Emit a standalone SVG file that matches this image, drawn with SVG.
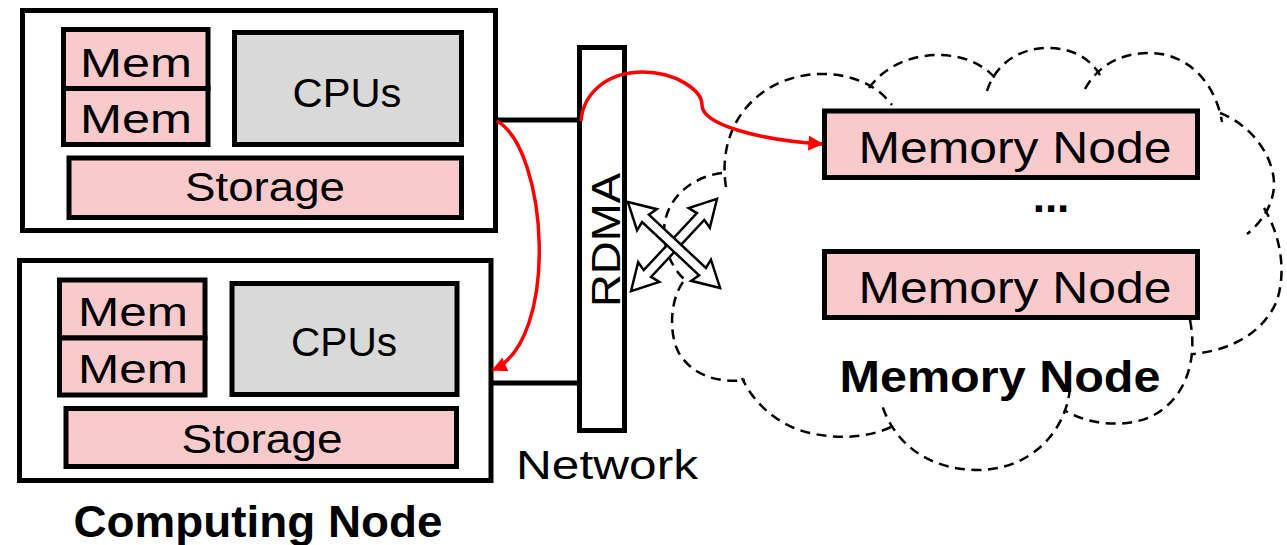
<svg xmlns="http://www.w3.org/2000/svg" width="1287" height="545" viewBox="0 0 1287 545">
  <style>
    .frame { fill: #ffffff; stroke: #000000; stroke-width: 5; }
    .mem { fill: #f8cacc; stroke: #000000; stroke-width: 5; }
    .cpu { fill: #d9d9d9; stroke: #000000; stroke-width: 5; }
    .link { fill: none; stroke: #000000; stroke-width: 5; }
    .flow { fill: none; stroke: #ff0000; stroke-width: 3.5; }
    .cloud { fill: none; stroke: #000000; stroke-width: 2.5; stroke-dasharray: 10 6.5; }
    .xarrow { fill: #ffffff; stroke: #000000; stroke-width: 2.5; stroke-linejoin: miter; }
    text { font-family: "Liberation Sans", Arial, sans-serif; fill: #000000; text-anchor: middle; }
    .lbl { font-size: 41px; }
    .big { font-size: 44px; }
    .bold { font-size: 45px; font-weight: bold; }
  </style>
  <defs>
    <marker id="redHead" viewBox="0 0 10 10" refX="9" refY="5" markerUnits="userSpaceOnUse" markerWidth="16" markerHeight="15" orient="auto">
      <path d="M0,0 L10,5 L0,10 Z" fill="#ff0000"/>
    </marker>
    <!-- double-headed hollow block arrow, centred on the origin -->
    <path id="dblArrow" d="M-63,0 L-37,-14.5 L-39,-5 L39,-5 L37,-14.5 L63,0 L37,14.5 L39,5 L-39,5 L-37,14.5 Z"/>
  </defs>

  <!-- dashed cloud holding the memory pool -->
  <g id="memory-cloud" class="cloud">
    <path d="M726,187 C716,125 758,76 819,74 C852,73 878,86 892,105"/>
    <path d="M869,88 C884,67 910,55 938,55 C963,55 983,64 995,78"/>
    <path d="M987,91 C995,65 1018,48 1048,48 C1072,48 1090,58 1100,75"/>
    <path d="M1085,89 C1100,62 1125,53 1150,53 C1185,53 1215,80 1222,122"/>
    <path d="M1220,113 C1252,125 1275,158 1274,186 C1273,205 1262,222 1247,234"/>
    <path d="M1264,208 C1280,235 1286,268 1278,297 C1268,328 1236,350 1193,354"/>
    <path d="M1190,320 C1198,360 1186,400 1150,417 C1125,428 1088,425 1064,410"/>
    <path d="M1070,388 C1066,432 1030,470 978,470 C930,470 895,445 882,405"/>
    <path d="M891,427 C870,437 840,440 810,433 C775,425 752,400 742,378"/>
    <path d="M683,282 C670,300 668,335 680,355 C695,377 720,383 745,380"/>
    <path d="M722,173 C690,177 665,200 664,230 C664,250 672,268 685,280"/>
  </g>

  <!-- upper computing node -->
  <g id="computing-node-1">
    <rect class="frame" x="22.5" y="10.5" width="473" height="220"/>
    <rect class="mem" x="63.5" y="29.5" width="144.5" height="59"/>
    <rect class="mem" x="63.5" y="88.5" width="144.5" height="56"/>
    <rect class="cpu" x="234.5" y="32.5" width="227" height="112"/>
    <rect class="mem" x="69" y="158" width="392.5" height="59.5"/>
    <text class="lbl" x="136" y="77" textLength="112" lengthAdjust="spacingAndGlyphs">Mem</text>
    <text class="lbl" x="136" y="133" textLength="112" lengthAdjust="spacingAndGlyphs">Mem</text>
    <text class="lbl" x="347" y="107" textLength="109" lengthAdjust="spacingAndGlyphs">CPUs</text>
    <text class="lbl" x="265" y="201" textLength="160" lengthAdjust="spacingAndGlyphs">Storage</text>
  </g>

  <!-- lower computing node -->
  <g id="computing-node-2">
    <rect class="frame" x="19.5" y="260.5" width="471.5" height="220"/>
    <rect class="mem" x="59.5" y="280" width="145.5" height="58"/>
    <rect class="mem" x="59.5" y="338" width="145.5" height="57"/>
    <rect class="cpu" x="232" y="283.5" width="225" height="111"/>
    <rect class="mem" x="66" y="408.5" width="390.5" height="58"/>
    <text class="lbl" x="133" y="326" textLength="110" lengthAdjust="spacingAndGlyphs">Mem</text>
    <text class="lbl" x="133" y="383" textLength="110" lengthAdjust="spacingAndGlyphs">Mem</text>
    <text class="lbl" x="344" y="356" textLength="106" lengthAdjust="spacingAndGlyphs">CPUs</text>
    <text class="lbl" x="262" y="453" textLength="161" lengthAdjust="spacingAndGlyphs">Storage</text>
  </g>
  <text class="bold" x="258" y="537" textLength="369" lengthAdjust="spacingAndGlyphs">Computing Node</text>

  <!-- RDMA switch -->
  <g id="rdma-network">
    <rect class="frame" x="579.5" y="47.5" width="45" height="383"/>
    <text class="lbl" font-size="46" transform="translate(620,240) rotate(-90)" textLength="134" lengthAdjust="spacingAndGlyphs">RDMA</text>
    <text class="lbl" x="607" y="479" font-size="44" textLength="182" lengthAdjust="spacingAndGlyphs">Network</text>
  </g>

  <!-- memory pool -->
  <g id="memory-node-1">
    <rect class="mem" x="824.5" y="111" width="373" height="66.5"/>
    <text class="big" x="1015" y="163" textLength="313" lengthAdjust="spacingAndGlyphs">Memory Node</text>
  </g>
  <text class="big" x="1051" y="212" font-weight="bold">...</text>
  <g id="memory-node-2">
    <rect class="mem" x="824.5" y="251.5" width="373" height="66"/>
    <text class="big" x="1015" y="303" textLength="313" lengthAdjust="spacingAndGlyphs">Memory Node</text>
  </g>
  <text class="bold" x="1000" y="392" font-size="44" textLength="321" lengthAdjust="spacingAndGlyphs">Memory Node</text>

  <!-- connectors -->
  <g id="connectors">
    <line class="link" x1="495" y1="120" x2="580" y2="120"/>
    <line class="link" x1="491" y1="383" x2="580" y2="383"/>
    <path class="flow" d="M497,121 C548,150 560,340 493,370" marker-end="url(#redHead)"/>
    <path class="flow" d="M581,121 C583,95 605,72 643,72 C675,72 702,90 702,105 C702,125 760,140 822,144" marker-end="url(#redHead)"/>
    <use href="#dblArrow" class="xarrow" transform="translate(674,245) rotate(-47)"/>
    <use href="#dblArrow" class="xarrow" transform="translate(674,245) rotate(43)"/>
  </g>
</svg>
